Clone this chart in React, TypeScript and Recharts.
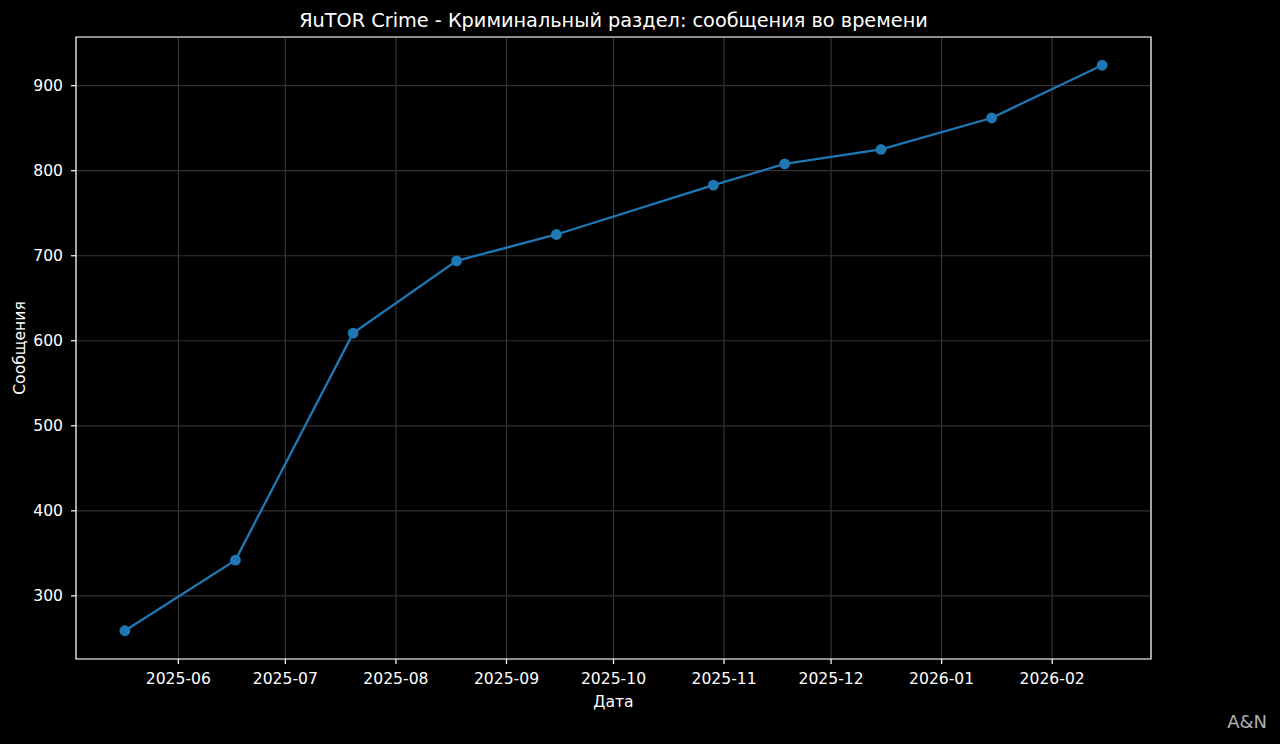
import React from 'react'
import { LineChart, Line, XAxis, YAxis, CartesianGrid, ReferenceArea, Label } from 'recharts'

const dates = ['2025-05-17', '2025-06-17', '2025-07-20', '2025-08-18', '2025-09-15', '2025-10-29', '2025-11-18', '2025-12-15', '2026-01-15', '2026-02-15']
const messages = [259, 342, 609, 694, 725, 783, 808, 825, 862, 924]
const monthTicks = ['2025-06', '2025-07', '2025-08', '2025-09', '2025-10', '2025-11', '2025-12', '2026-01', '2026-02']
const yTicks = [300, 400, 500, 600, 700, 800, 900]

const toMs = (s: string) => {
  const [y, m, d] = s.split('-').map(Number)
  return Date.UTC(y, m - 1, d || 1)
}

const data = dates.map((d, i) => ({ t: toMs(d), v: messages[i] }))

// matplotlib-style 5% margins
const pad = (lo: number, hi: number) => [lo - (hi - lo) * 0.05, hi + (hi - lo) * 0.05]
const [xMin, xMax] = pad(Math.min(...data.map(p => p.t)), Math.max(...data.map(p => p.t)))
const [yMin, yMax] = pad(Math.min(...messages), Math.max(...messages))

const fmtMonth = (t: number) => {
  const d = new Date(t)
  return `${d.getUTCFullYear()}-${String(d.getUTCMonth() + 1).padStart(2, '0')}`
}

const FONT = '"DejaVu Sans", sans-serif'
const tickStyle = { fill: '#ffffff', fontSize: 15.6, fontFamily: FONT }
const labelStyle = { fill: '#ffffff', fontSize: 15.6, fontFamily: FONT, textAnchor: 'middle' as const }

export default function App() {
  return (
    <div style={{ position: 'absolute', left: 0, top: 0, width: 1280, height: 744, background: '#000', fontFamily: FONT }}>
      <div style={{ position: 'absolute', left: 76, width: 1075, top: 9, textAlign: 'center', color: '#fff', fontSize: 19.3, lineHeight: '23px', whiteSpace: 'nowrap' }}>
        ЯuTOR Crime - Криминальный раздел: сообщения во времени
      </div>
      <LineChart width={1280} height={744} data={data} margin={{ top: 37, right: 129, bottom: 40, left: 16 }}>
        <CartesianGrid stroke="#333333" strokeWidth={1.2} />
        <XAxis
          dataKey="t"
          type="number"
          scale="linear"
          domain={[xMin, xMax]}
          allowDataOverflow
          ticks={monthTicks.map(toMs)}
          tickFormatter={fmtMonth}
          tick={tickStyle}
          tickLine={{ stroke: '#fff', strokeWidth: 1.2 }}
          tickSize={5}
          tickMargin={9}
          axisLine={false}
          height={45}
        >
          <Label value="Дата" position="insideBottom" offset={-3} style={labelStyle} />
        </XAxis>
        <YAxis
          type="number"
          domain={[yMin, yMax]}
          allowDataOverflow
          ticks={yTicks}
          tick={tickStyle}
          tickLine={{ stroke: '#fff', strokeWidth: 1.2 }}
          tickSize={5}
          tickMargin={8}
          axisLine={false}
          width={60}
        >
          <Label value="Сообщения" angle={-90} position="insideLeft" offset={3} style={labelStyle} />
        </YAxis>
        <ReferenceArea x1={xMin} x2={xMax} y1={yMin} y2={yMax} fill="none" stroke="#ffffff" strokeWidth={1.2} ifOverflow="visible" />
        <Line
          type="linear"
          dataKey="v"
          stroke="#1f77b4"
          strokeWidth={2.3}
          dot={{ r: 5.4, fill: '#1f77b4', stroke: 'none' }}
          activeDot={false}
          isAnimationActive={false}
        />
      </LineChart>
      <div style={{ position: 'absolute', right: 13, top: 711, color: '#b0b0b0', fontSize: 18, lineHeight: '22px' }}>A&amp;N</div>
    </div>
  )
}
